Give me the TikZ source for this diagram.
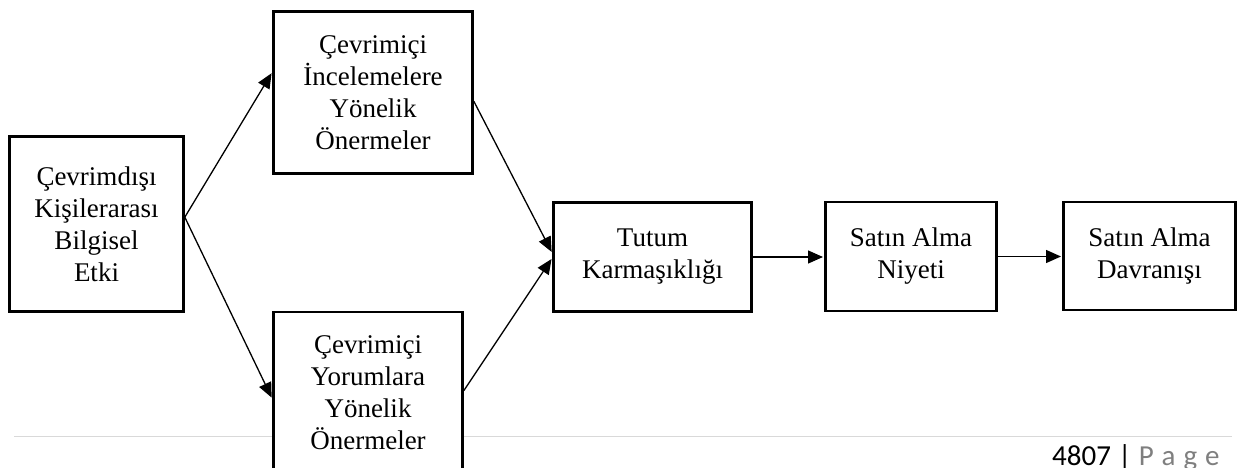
\documentclass[tikz,border=0pt]{standalone}
\usepackage{fontspec}
\setmainfont{Liberation Serif}
\newfontfamily\footfont{Carlito}[WordSpace=1.4]
\newfontfamily\pagefont{Carlito}[WordSpace=1.1]
\usetikzlibrary{arrows.meta,calc}
\definecolor{linegray}{HTML}{D9D9D9}
\definecolor{footgray}{HTML}{7F7F7F}
\begin{document}
\begin{tikzpicture}[x=1pt,y=-1pt,
  box/.style={draw,line width=2.6pt,fill=white,align=center,inner sep=0pt,font=\fontsize{27}{32}\selectfont},
  conn/.style={line width=1.3pt,shorten >=1.2pt,-{Triangle[length=15pt,width=13pt]}},
]
\useasboundingbox (0,0) rectangle (1240,468);
\clip (0,0) rectangle (1240,468);
\coordinate (gl) at (14,436.5);
\coordinate (gr) at (1232,436.5);
\draw[line width=1.5pt,color=linegray] (gl) -- (gr);

\node[box,minimum width=174pt,minimum height=175pt] (off) at (96.5,224) {Çevrimdışı\\Kişilerarası\\Bilgisel\\Etki};
\node[box,minimum width=199pt,minimum height=162pt] (onl1) at (373,92.5) {Çevrimiçi\\İncelemelere\\Yönelik\\Önermeler};
\node[box,minimum width=189pt,minimum height=162pt] (onl2) at (368,393) {Çevrimiçi\\Yorumlara\\Yönelik\\Önermeler};
\node[box,minimum width=198pt,minimum height=109pt] (tut) at (652.5,257) {Tutum\\Karmaşıklığı};
\node[box,minimum width=171pt,minimum height=109pt] (niy) at (911,256.5) {Satın Alma\\Niyeti};
\node[box,minimum width=172pt,minimum height=108pt] (dav) at (1149.5,256) {Satın Alma\\Davranışı};

\draw[conn] ($(off.north east)+(0,82)$) -- ($(onl1.north west)+(0,62)$);
\draw[conn] ($(off.north east)+(0,82)$) -- ($(onl2.north west)+(0,88)$);
\draw[conn] ($(onl1.north east)+(0,91)$) -- ($(tut.west)+(0,-4)$);
\draw[conn] ($(onl2.north east)+(0,80)$) -- ($(tut.west)+(0,1)$);
\draw[conn] (tut.east) -- (tut.east -| niy.west);
\draw[conn] (niy.east) -- (niy.east -| dav.west);

\node[anchor=base west,inner sep=0pt,font=\footfont\fontsize{29}{34}\selectfont] (pg) at (1052,465)
  {4807 | \textcolor{footgray}{\pagefont P a g e}};
\end{tikzpicture}
\end{document}
